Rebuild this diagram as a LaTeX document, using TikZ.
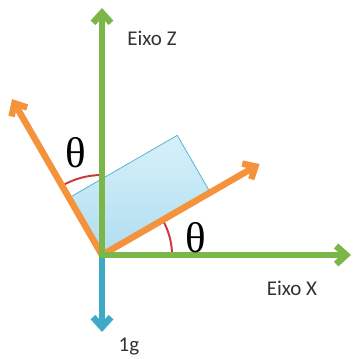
\documentclass[tikz,border=0pt]{standalone}
\usepackage{fontspec}
\setsansfont{Carlito}
\newfontfamily\thetafont{Liberation Serif}
\usetikzlibrary{arrows.meta,calc}
\definecolor{axgreen}{RGB}{122,182,72}
\definecolor{orng}{RGB}{245,146,60}
\definecolor{aqua}{RGB}{62,170,200}
\definecolor{arcred}{RGB}{200,60,60}
\definecolor{boxtop}{RGB}{215,240,249}
\definecolor{boxbot}{RGB}{175,222,240}
\definecolor{boxline}{RGB}{90,180,210}
\tikzset{
  tip/.style={-{Straight Barb[length=10pt,width=18pt]}},
  axis/.style={draw=axgreen,line width=6.5pt,tip},
  tilt/.style={draw=orng,line width=6.5pt,tip},
  gvec/.style={draw=aqua,line width=6.5pt,tip},
  anglearc/.style={draw=arcred,line width=2pt},
  lbl/.style={font=\sffamily\fontsize{21}{21}\selectfont,text=black!80},
  th/.style={font=\thetafont\fontsize{43}{43}\selectfont}
}
\begin{document}
\begin{tikzpicture}[x=1pt,y=1pt]
\useasboundingbox (0,0) rectangle (353,359);
\coordinate (O) at (102,104);
% box
\shade[top color=boxtop,bottom color=boxbot,draw=boxline,line width=0.8pt]
  (O) -- ++(30:125) -- ++(120:66) -- ++(210:125) -- cycle;
% angle arcs
\draw[anglearc] ([shift={(0:70)}]O) arc[start angle=0,end angle=30,radius=70];
\draw[anglearc] ([shift={(90:80)}]O) arc[start angle=90,end angle=120,radius=80];
% tilted axes
\coordinate (R) at ($(O)+(30:182)$);
\coordinate (L) at ($(O)+(120:180)$);
\draw[tilt] (O) -- (R);
\draw[tilt] (O) -- (L);
% main axes
\coordinate (Z) at (102,351);
\coordinate (X) at (351,104);
\coordinate (G) at (102,27);
\draw[gvec] (O) -- (G);
\draw[axis] (102,100.75) -- (Z);
\draw[axis] (98.75,104) -- (X);
% labels
\node[lbl] (lz) at (152,321) {Eixo Z};
\node[lbl] (lx) at (292,71) {Eixo X};
\node[lbl] (lg) at (129,12) {1g};
\node[th] (t1) at (76,206) {θ};
\node[th] (t2) at (196,121) {θ};
\end{tikzpicture}
\end{document}
